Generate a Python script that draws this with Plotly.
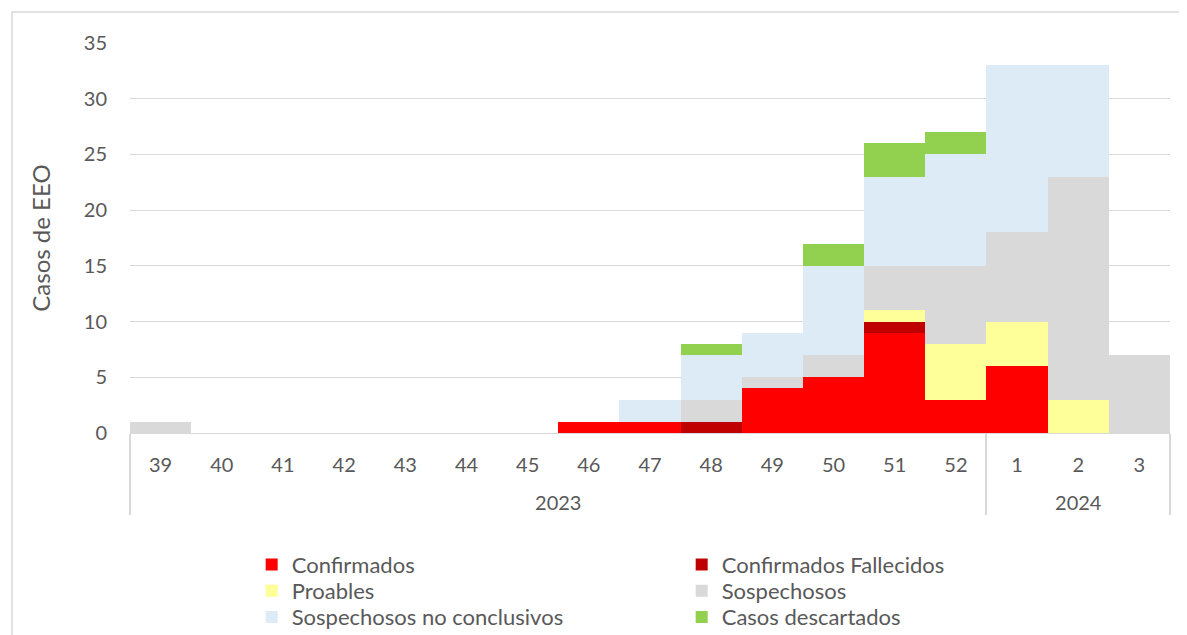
import plotly.graph_objects as go

# semanas epidemiologicas
anios = ["2023"] * 14 + ["2024"] * 3
semanas = ["39", "40", "41", "42", "43", "44", "45", "46", "47", "48",
           "49", "50", "51", "52", "1", "2", "3"]

confirmados = [0, 0, 0, 0, 0, 0, 0, 1, 1, 0, 4, 5, 9, 3, 6, 0, 0]
fallecidos = [0, 0, 0, 0, 0, 0, 0, 0, 0, 1, 0, 0, 1, 0, 0, 0, 0]
probables = [0, 0, 0, 0, 0, 0, 0, 0, 0, 0, 0, 0, 1, 5, 4, 3, 0]
sospechosos = [1, 0, 0, 0, 0, 0, 0, 0, 0, 2, 1, 2, 4, 7, 8, 20, 7]
no_conclusivos = [0, 0, 0, 0, 0, 0, 0, 0, 2, 4, 4, 8, 8, 10, 15, 10, 0]
descartados = [0, 0, 0, 0, 0, 0, 0, 0, 0, 1, 0, 2, 3, 2, 0, 0, 0]

# nombre, valores, color, fila de la leyenda
series = [
    ("Confirmados", confirmados, "#FF0000", "legend"),
    ("Confirmados Fallecidos", fallecidos, "#C00000", "legend"),
    ("Proables", probables, "#FFFF99", "legend2"),
    ("Sospechosos", sospechosos, "#D9D9D9", "legend2"),
    ("Sospechosos no conclusivos", no_conclusivos, "#DDEBF7", "legend3"),
    ("Casos descartados", descartados, "#92D050", "legend3"),
]

fuente = "Lato, Carlito, sans-serif"
gris = "#595959"

# el año va una linea mas abajo que la semana
etiquetas_anio = ["<br>" + a for a in anios]

fig = go.Figure()
for nombre, valores, color, ley in series:
    fig.add_trace(go.Bar(
        x=[etiquetas_anio, semanas], y=valores, name=nombre, legend=ley,
        marker=dict(color=color, line=dict(width=0)),
    ))


def fila_leyenda(y):
    return dict(orientation="h", x=0.117, xanchor="left", y=y, yanchor="middle",
                traceorder="normal", entrywidth=385, entrywidthmode="pixels",
                itemwidth=30, bgcolor="rgba(0,0,0,0)",
                font=dict(family=fuente, size=22, color=gris))


# la pagina tiene 8px de margen en el body
fig.update_layout(
    barmode="stack",
    bargap=0,
    width=1179, height=627,
    margin=dict(l=122, r=17, t=35, b=202, autoexpand=False),
    paper_bgcolor="white", plot_bgcolor="white",
    font=dict(family=fuente, color=gris, size=20),
    legend=fila_leyenda(-0.338),
    legend2=fila_leyenda(-0.405),
    legend3=fila_leyenda(-0.472),
    showlegend=True,
)

fig.update_yaxes(
    range=[0, 35], dtick=5, showgrid=True, gridcolor="#D9D9D9", gridwidth=1,
    zeroline=False, showline=False, ticks="", ticklabelstandoff=22,
    tickfont=dict(size=20, color=gris),
    title=dict(text="Casos de EEO", font=dict(size=24, color=gris), standoff=26),
)
fig.update_xaxes(
    type="multicategory", showline=True, linecolor="#D9D9D9", linewidth=1,
    showdividers=True, dividercolor="#D9D9D9", dividerwidth=1.5,
    ticks="", ticklabelstandoff=14,
    tickfont=dict(size=20, color=gris),
)

# borde del area del grafico
fig.add_shape(type="rect", xref="paper", yref="paper",
              x0=-0.1135, x1=1.06, y0=-0.56, y1=1.0795,
              line=dict(color="#D9D9D9", width=1.5), fillcolor="rgba(0,0,0,0)",
              layer="below")

fig.write_html("out.html")
